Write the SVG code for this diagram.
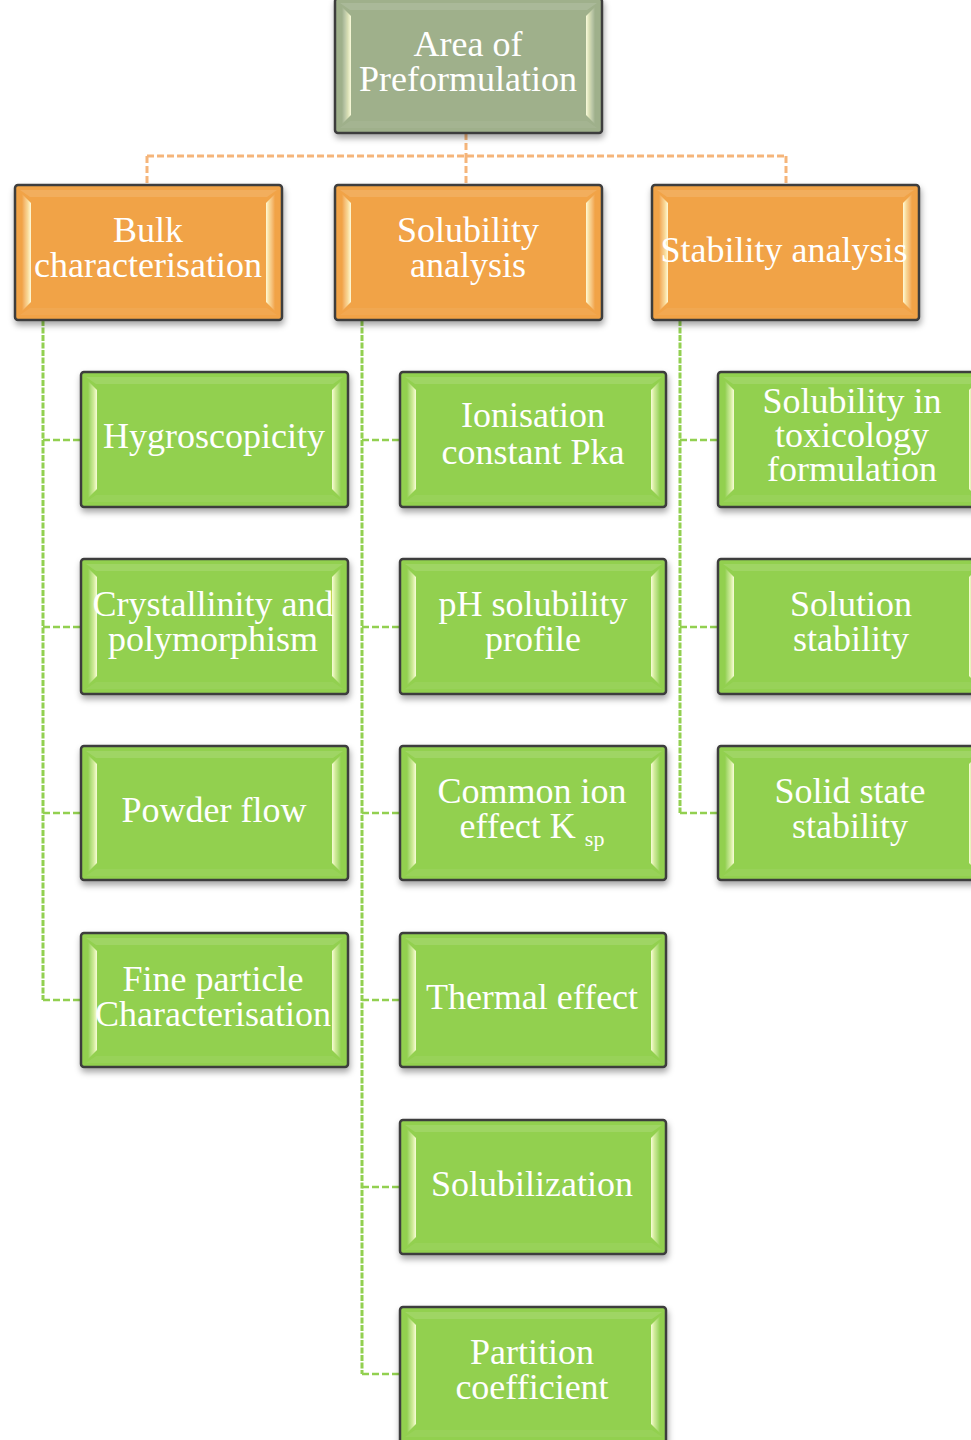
<svg xmlns="http://www.w3.org/2000/svg" xmlns:xlink="http://www.w3.org/1999/xlink" width="971" height="1440" viewBox="0 0 971 1440">
<style>
.box{stroke:#3d3d3d;stroke-width:2.5;filter:url(#sh)}
.gray{fill:#9fb08b}
.orange{fill:#f1a346}
.green{fill:#92d050}
.t{font-family:"Liberation Serif","Times New Roman",serif;font-size:36px;fill:#ffffff;text-anchor:middle}
.oc{fill:none;stroke:#f5b57a;stroke-width:3;stroke-dasharray:7 3}
.gv{fill:none;stroke:#92d050;stroke-width:3;stroke-dasharray:6 1.5}
.gh{fill:none;stroke:#92d050;stroke-width:2.5;stroke-dasharray:7 3}
</style>
<defs>
<filter id="sh" x="-10%" y="-10%" width="125%" height="130%">
<feDropShadow dx="1" dy="4" stdDeviation="3" flood-color="#000" flood-opacity="0.35"/>
</filter>
<linearGradient id="gl" x1="0" y1="0" x2="1" y2="0">
<stop offset="0" stop-color="#ffffff" stop-opacity="0"/>
<stop offset="0.6" stop-color="#ffffd0" stop-opacity="0.55"/>
<stop offset="1" stop-color="#ffffe0" stop-opacity="0.95"/>
</linearGradient>
<linearGradient id="gr" x1="1" y1="0" x2="0" y2="0">
<stop offset="0" stop-color="#ffffff" stop-opacity="0"/>
<stop offset="0.6" stop-color="#ffffd0" stop-opacity="0.55"/>
<stop offset="1" stop-color="#ffffe0" stop-opacity="0.95"/>
</linearGradient>
<g id="bevel">
<polygon points="5,5 262,5 252,12 15,12" fill="#ffffff" fill-opacity="0.12"/>
<polygon points="5,130 15,123 252,123 262,130" fill="#ffffff" fill-opacity="0.06"/>
<polygon points="7,9 16,18 16,117 7,126" fill="url(#gl)"/>
<polygon points="260,9 251,18 251,117 260,126" fill="url(#gr)"/>
</g>
</defs>
<rect width="971" height="1440" fill="#ffffff"/>

<g id="connectors">
<path class="oc" d="M466,133 V156 M147,156 H786 M147,156 V185 M466,156 V185 M786,156 V185"/>
<path class="gv" d="M43,320 V1000"/>
<path class="gh" d="M43,440 H81 M43,627 H81 M43,813 H81 M43,1000 H81"/>
<path class="gv" d="M362,320 V1374"/>
<path class="gh" d="M362,440 H400 M362,627 H400 M362,813 H400 M362,1000 H400 M362,1187 H400 M362,1374 H400"/>
<path class="gv" d="M680,320 V813"/>
<path class="gh" d="M680,440 H718 M680,627 H718 M680,813 H718"/>
</g>

<g id="n-root">
<rect class="box gray" x="335" y="-2" width="267" height="135" rx="3"/>
<use xlink:href="#bevel" x="335" y="-2"/>
<text class="t" x="468" y="56">Area of</text>
<text class="t" x="468" y="91">Preformulation</text>
</g>

<g id="n-bulk">
<rect class="box orange" x="15" y="185" width="267" height="135" rx="3"/>
<use xlink:href="#bevel" x="15" y="185"/>
<text class="t" x="148" y="242">Bulk</text>
<text class="t" x="148" y="277">characterisation</text>
</g>
<g id="n-solubility">
<rect class="box orange" x="335" y="185" width="267" height="135" rx="3"/>
<use xlink:href="#bevel" x="335" y="185"/>
<text class="t" x="468" y="242">Solubility</text>
<text class="t" x="468" y="277">analysis</text>
</g>
<g id="n-stability">
<rect class="box orange" x="652" y="185" width="267" height="135" rx="3"/>
<use xlink:href="#bevel" x="652" y="185"/>
<text class="t" x="784" y="262">Stability analysis</text>
</g>

<g id="n-hygro">
<rect class="box green" x="81" y="372" width="267" height="135" rx="3"/>
<use xlink:href="#bevel" x="81" y="372"/>
<text class="t" x="214" y="448">Hygroscopicity</text>
</g>
<g id="n-cryst">
<rect class="box green" x="81" y="559" width="267" height="135" rx="3"/>
<use xlink:href="#bevel" x="81" y="559"/>
<text class="t" x="213" y="616">Crystallinity and</text>
<text class="t" x="213" y="651">polymorphism</text>
</g>
<g id="n-powder">
<rect class="box green" x="81" y="746" width="267" height="134" rx="3"/>
<use xlink:href="#bevel" x="81" y="746"/>
<text class="t" x="214" y="822">Powder flow</text>
</g>
<g id="n-fine">
<rect class="box green" x="81" y="933" width="267" height="134" rx="3"/>
<use xlink:href="#bevel" x="81" y="933"/>
<text class="t" x="213" y="991">Fine particle</text>
<text class="t" x="213" y="1026">Characterisation</text>
</g>

<g id="n-ionisation">
<rect class="box green" x="400" y="372" width="266" height="135" rx="3"/>
<use xlink:href="#bevel" x="400" y="372"/>
<text class="t" x="533" y="427">Ionisation</text>
<text class="t" x="533" y="464">constant Pka</text>
</g>
<g id="n-ph">
<rect class="box green" x="400" y="559" width="266" height="135" rx="3"/>
<use xlink:href="#bevel" x="400" y="559"/>
<text class="t" x="533" y="616">pH solubility</text>
<text class="t" x="533" y="651">profile</text>
</g>
<g id="n-common">
<rect class="box green" x="400" y="746" width="266" height="134" rx="3"/>
<use xlink:href="#bevel" x="400" y="746"/>
<text class="t" x="532" y="803">Common ion</text>
<text class="t" x="532" y="838">effect K <tspan font-size="22" dy="8">sp</tspan></text>
</g>
<g id="n-thermal">
<rect class="box green" x="400" y="933" width="266" height="134" rx="3"/>
<use xlink:href="#bevel" x="400" y="933"/>
<text class="t" x="532" y="1009">Thermal effect</text>
</g>
<g id="n-solubilization">
<rect class="box green" x="400" y="1120" width="266" height="134" rx="3"/>
<use xlink:href="#bevel" x="400" y="1120"/>
<text class="t" x="532" y="1196">Solubilization</text>
</g>
<g id="n-partition">
<rect class="box green" x="400" y="1307" width="266" height="136" rx="3"/>
<use xlink:href="#bevel" x="400" y="1307"/>
<text class="t" x="532" y="1364">Partition</text>
<text class="t" x="532" y="1399">coefficient</text>
</g>

<g id="n-toxic">
<rect class="box green" x="718" y="372" width="266" height="135" rx="3"/>
<use xlink:href="#bevel" x="718" y="372"/>
<text class="t" x="852" y="413">Solubility in</text>
<text class="t" x="852" y="447">toxicology</text>
<text class="t" x="852" y="481">formulation</text>
</g>
<g id="n-solution">
<rect class="box green" x="718" y="559" width="266" height="135" rx="3"/>
<use xlink:href="#bevel" x="718" y="559"/>
<text class="t" x="851" y="616">Solution</text>
<text class="t" x="851" y="651">stability</text>
</g>
<g id="n-solid">
<rect class="box green" x="718" y="746" width="266" height="134" rx="3"/>
<use xlink:href="#bevel" x="718" y="746"/>
<text class="t" x="850" y="803">Solid state</text>
<text class="t" x="850" y="838">stability</text>
</g>
</svg>
